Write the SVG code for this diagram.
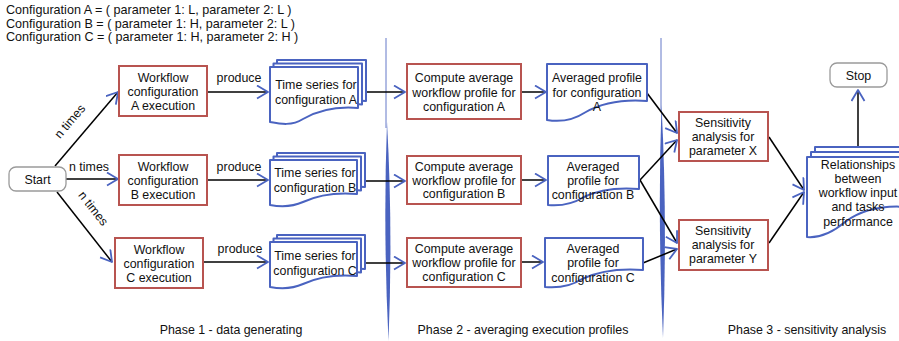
<svg xmlns="http://www.w3.org/2000/svg" width="899" height="341" viewBox="0 0 899 341">
  <style>
    text { font-family: "Liberation Sans", Arial, sans-serif; font-size: 12.4px; fill: #111; }
    .c { text-anchor: middle; }
    .legend text { font-size: 12.6px; }
    .proc { fill: #fff; stroke: #b85450; stroke-width: 2; }
    .doc { fill: #fff; stroke: #4a63c0; stroke-width: 2; stroke-linejoin: round; }
    .term { fill: #fff; stroke: #9a9a9a; stroke-width: 1.3; }
    .edge { fill: none; stroke: #000; stroke-width: 1.5; marker-end: url(#chev); }
    .sep { fill: #4a63c0; }
    .septhin { stroke: #4a63c0; stroke-width: 1; opacity: 0.85; }
  </style>
  <defs>
    <marker id="chev" markerUnits="userSpaceOnUse" markerWidth="16" markerHeight="16" refX="12" refY="7" orient="auto">
      <path d="M1,0.5 L12,7 L1,13.5" fill="none" stroke="#4a63c0" stroke-width="1.8" stroke-linejoin="round"/>
    </marker>
  </defs>

  <!-- configuration legend -->
  <g id="legend" class="legend">
    <text x="6" y="14">Configuration A = ( parameter 1: L, parameter 2: L )</text>
    <text x="6" y="27.5">Configuration B = ( parameter 1: H, parameter 2: L )</text>
    <text x="6" y="41">Configuration C = ( parameter 1: H, parameter 2: H )</text>
  </g>

  <!-- phase separators -->
  <g id="separators">
    <line class="septhin" x1="386" y1="38" x2="386" y2="128"/>
    <path class="sep" d="M387,122 Q393,230 388.5,341 Q383,230 387,122 Z"/>
    <line class="septhin" x1="661" y1="38" x2="661" y2="112"/>
    <path class="sep" d="M661.5,105 Q667.5,220 663,338 Q657.5,220 661.5,105 Z"/>
  </g>

  <!-- connectors -->
  <g id="connectors">
    <line class="edge" x1="55" y1="166" x2="118" y2="92"/>
    <line class="edge" x1="66" y1="179" x2="118" y2="179"/>
    <line class="edge" x1="57" y1="192" x2="112" y2="262"/>
    <line class="edge" x1="208" y1="92" x2="268" y2="92"/>
    <line class="edge" x1="208" y1="180" x2="268" y2="180"/>
    <line class="edge" x1="204" y1="262" x2="268" y2="262"/>
    <line class="edge" x1="365" y1="92" x2="405" y2="92"/>
    <line class="edge" x1="365" y1="181" x2="405" y2="181"/>
    <line class="edge" x1="365" y1="263" x2="405" y2="263"/>
    <line class="edge" x1="521" y1="92" x2="546" y2="92"/>
    <line class="edge" x1="521" y1="180" x2="546" y2="180"/>
    <line class="edge" x1="521" y1="262" x2="543" y2="262"/>
    <line class="edge" x1="647" y1="93" x2="677" y2="133"/>
    <line class="edge" x1="640" y1="180" x2="677" y2="140"/>
    <line class="edge" x1="640" y1="180" x2="677" y2="243"/>
    <line class="edge" x1="643" y1="263" x2="677" y2="249"/>
    <line class="edge" x1="769" y1="137" x2="804" y2="190"/>
    <line class="edge" x1="769" y1="243" x2="804" y2="192"/>
    <line class="edge" x1="858" y1="146" x2="858" y2="90"/>
  </g>

  <!-- connector labels -->
  <g id="edge-labels">
    <text class="c" transform="translate(73,124) rotate(-49.6)">n times</text>
    <text class="c" x="89" y="171">n times</text>
    <text class="c" transform="translate(90,211) rotate(51.8)">n times</text>
    <text class="c" x="239" y="82">produce</text>
    <text class="c" x="239" y="171">produce</text>
    <text class="c" x="240" y="253">produce</text>
  </g>

  <!-- terminals -->
  <g id="start">
    <rect class="term" x="9" y="167" width="57" height="24" rx="7"/>
    <text class="c" x="37.5" y="183.5">Start</text>
  </g>
  <g id="stop">
    <rect class="term" x="830" y="63" width="57" height="24" rx="7"/>
    <text class="c" x="858.5" y="79.5">Stop</text>
  </g>

  <!-- phase 1: workflow executions -->
  <g id="exec-a">
    <rect class="proc" x="119" y="66" width="88" height="50"/>
    <text class="c" x="163" y="82">Workflow</text>
    <text class="c" x="163" y="96">configuration</text>
    <text class="c" x="163" y="110">A execution</text>
  </g>
  <g id="exec-b">
    <rect class="proc" x="119" y="155" width="88" height="50"/>
    <text class="c" x="163" y="171">Workflow</text>
    <text class="c" x="163" y="185">configuration</text>
    <text class="c" x="163" y="199">B execution</text>
  </g>
  <g id="exec-c">
    <rect class="proc" x="115" y="238" width="88" height="50"/>
    <text class="c" x="159" y="254">Workflow</text>
    <text class="c" x="159" y="268">configuration</text>
    <text class="c" x="159" y="282">C execution</text>
  </g>

  <!-- phase 1: time series (stacked documents) -->
  <g id="series-a">
    <path class="doc" d="M277,60 H366 V101 C342,99 324,104 311,112 C299,120 288,117 277,115 Z"/>
    <path class="doc" d="M273.5,63.5 H362 V104.5 C338,102 320,107 307,115 C295,123 284,120 273.5,118.5 Z"/>
    <path class="doc" d="M270,67 H358 V108 C334,106 317,111 303,119 C292,126 281,124 270,122 Z"/>
    <text class="c" x="316" y="89">Time series for</text>
    <text class="c" x="316" y="104">configuration A</text>
  </g>
  <g id="series-b">
    <path class="doc" d="M277,153 H365 V187 C341,185 324,189 310,195 C299,200 288,200 277,198 Z"/>
    <path class="doc" d="M273.5,156.5 H361 V190.5 C337,188 320,192 306,198 C295,203 284,203 273.5,201.5 Z"/>
    <path class="doc" d="M270,160 H357 V194 C333,192 316,196 303,202 C292,207 281,207 270,205 Z"/>
    <text class="c" x="315" y="177">Time series for</text>
    <text class="c" x="315" y="192">configuration B</text>
  </g>
  <g id="series-c">
    <path class="doc" d="M277,235 H365 V269 C341,267 324,271 310,277 C299,282 288,282 277,280 Z"/>
    <path class="doc" d="M273.5,238.5 H361 V272.5 C337,270 320,274 306,280 C295,285 284,285 273.5,283.5 Z"/>
    <path class="doc" d="M270,242 H357 V276 C333,274 316,278 303,284 C292,289 281,289 270,287 Z"/>
    <text class="c" x="315" y="260">Time series for</text>
    <text class="c" x="315" y="275">configuration C</text>
  </g>

  <!-- phase 2: averaging -->
  <g id="avg-a">
    <rect class="proc" x="407" y="64" width="114" height="55"/>
    <text class="c" x="464" y="82">Compute average</text>
    <text class="c" x="464" y="96.5">workflow profile for</text>
    <text class="c" x="464" y="111">configuration A</text>
  </g>
  <g id="avg-b">
    <rect class="proc" x="407" y="156" width="114" height="48"/>
    <text class="c" x="464" y="171">Compute average</text>
    <text class="c" x="464" y="184.5">workflow profile for</text>
    <text class="c" x="464" y="198">configuration B</text>
  </g>
  <g id="avg-c">
    <rect class="proc" x="407" y="238" width="114" height="49"/>
    <text class="c" x="464" y="253">Compute average</text>
    <text class="c" x="464" y="267">workflow profile for</text>
    <text class="c" x="464" y="281">configuration C</text>
  </g>

  <g id="profile-a">
    <path class="doc" d="M547,64 H647 V101 C620,99 600,104 585,112.5 C572,121 559,122 547,120 Z"/>
    <text class="c" x="597" y="82">Averaged profile</text>
    <text class="c" x="597" y="96.5">for configuration</text>
    <text class="c" x="597" y="111">A</text>
  </g>
  <g id="profile-b">
    <path class="doc" d="M548,156 H639 V189 C614,187 596,191 583,197.5 C571,205 560,206 548,205 Z"/>
    <text class="c" x="593" y="171">Averaged</text>
    <text class="c" x="593" y="185">profile for</text>
    <text class="c" x="593" y="199">configuration B</text>
  </g>
  <g id="profile-c">
    <path class="doc" d="M545,238 H643 V270 C616,268 597,272 582,279 C570,287 557,288 545,287 Z"/>
    <text class="c" x="593" y="253">Averaged</text>
    <text class="c" x="593" y="267">profile for</text>
    <text class="c" x="593" y="282">configuration C</text>
  </g>

  <!-- phase 3: sensitivity analysis -->
  <g id="sens-x">
    <rect class="proc" x="679" y="112" width="89" height="49"/>
    <text class="c" x="723" y="127">Sensitivity</text>
    <text class="c" x="723" y="141">analysis for</text>
    <text class="c" x="723" y="155">parameter X</text>
  </g>
  <g id="sens-y">
    <rect class="proc" x="679" y="220" width="89" height="50"/>
    <text class="c" x="723" y="235">Sensitivity</text>
    <text class="c" x="723" y="249">analysis for</text>
    <text class="c" x="723" y="263">parameter Y</text>
  </g>

  <g id="relationships">
    <path class="doc" d="M815,147 H915 V197 C888,195 868,201 853,212 C840,223 827,228 815,227 Z"/>
    <path class="doc" d="M811,152 H911 V202 C884,200 864,206 849,217 C836,228 823,233 811,232 Z"/>
    <path class="doc" d="M807,157 H907 V207 C880,205 860,211 845,222 C832,233 819,238 807,237 Z"/>
    <text class="c" x="858" y="169">Relationships</text>
    <text class="c" x="858" y="183">between</text>
    <text class="c" x="858" y="197">workflow input</text>
    <text class="c" x="858" y="211">and tasks</text>
    <text class="c" x="858" y="226">performance</text>
  </g>

  <!-- phase captions -->
  <g id="phases">
    <text class="c" x="231" y="334">Phase 1 - data generating</text>
    <text class="c" x="523" y="334">Phase 2 - averaging execution profiles</text>
    <text class="c" x="807" y="334">Phase 3 - sensitivity analysis</text>
  </g>
</svg>
